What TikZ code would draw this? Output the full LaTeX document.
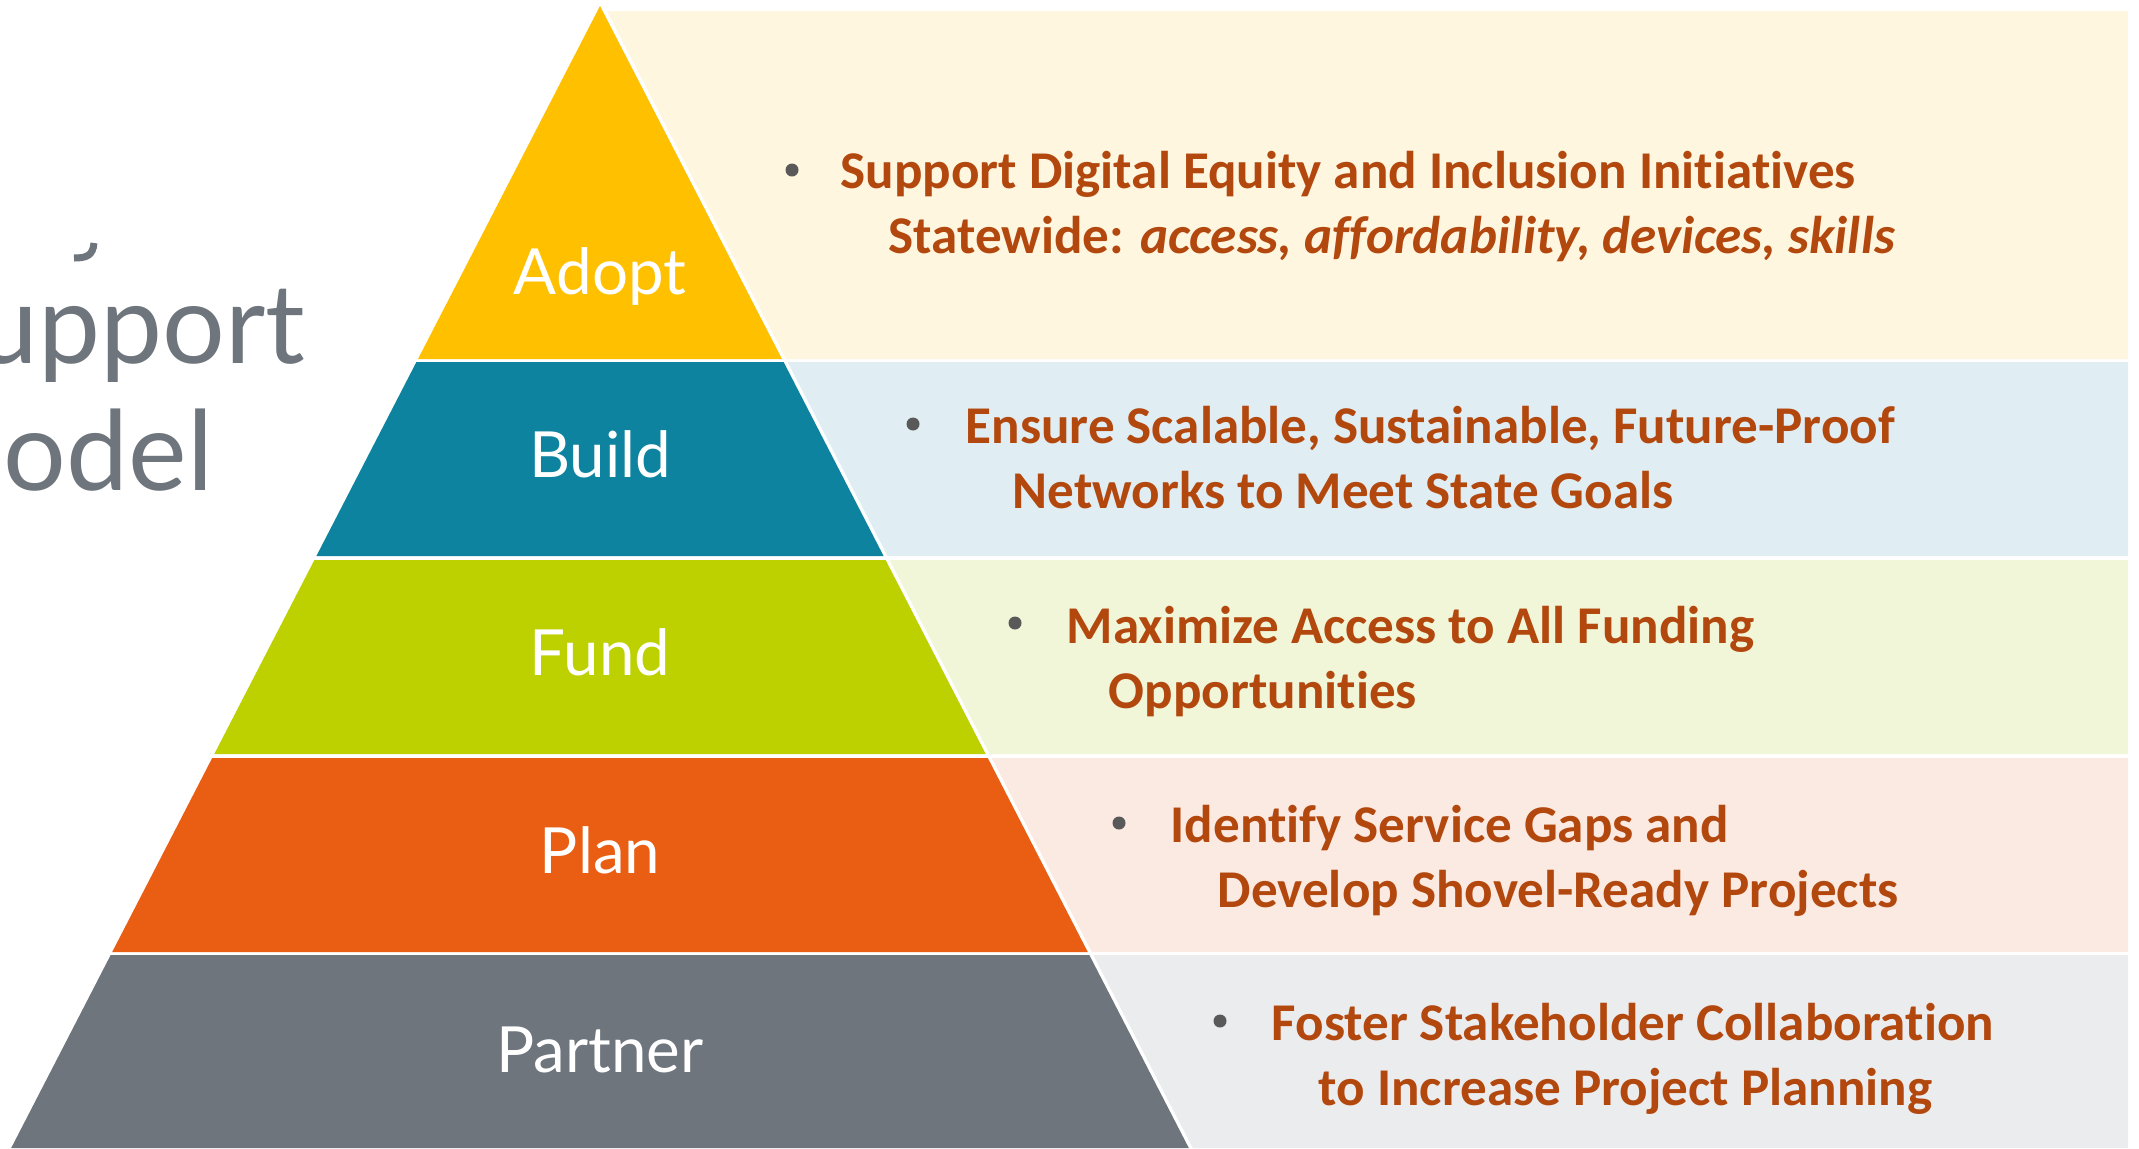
\documentclass[tikz,border=0pt]{standalone}
\usepackage{fontspec}
\newfontfamily\PyLabelFont{Lato}
\newfontfamily\PyGoalFont[Ligatures=NoCommon]{Carlito}
\usepackage{tikz}
\usetikzlibrary{calc,
	positioning
}
\definecolor{TrAdopt}{HTML}{FFC000}
\definecolor{TrBuild}{HTML}{0D83A0}
\definecolor{TrFund}{HTML}{BDD000}
\definecolor{TrPlan}{HTML}{EA5E14}
\definecolor{TrPartner}{HTML}{6E757C}
\definecolor{PnAdopt}{HTML}{FFF6E0}
\definecolor{PnBuild}{HTML}{E0EEF3}
\definecolor{PnFund}{HTML}{F2F6D9}
\definecolor{PnPlan}{HTML}{FBEAE2}
\definecolor{PnPartner}{HTML}{EBECEE}
\definecolor{GoalText}{HTML}{B3480F}
\definecolor{DotGrey}{HTML}{595959}
\tikzset{Pyramid/.style = {
		x=0.01cm, y=-0.01cm,
		tierlabel/.style = {text=white, inner sep=0pt, anchor=base,
			font=\PyLabelFont\fontsize{18.1}{22}\selectfont},
		goal/.style = {text=GoalText, inner sep=0pt, anchor=base west,
			font=\PyGoalFont\bfseries\fontsize{15.1}{18.5}\selectfont},
		dot/.style = {circle, fill=DotGrey, inner sep=0pt, minimum size=0.13cm},
		heading/.style = {text=TrPartner, inner sep=0pt, anchor=base east,
			font=\PyLabelFont\fontsize{31.5}{36}\selectfont},
	}% end of Pyramid style
}
\begin{document}
\begin{tikzpicture}[Pyramid]
  \fill[white] (0,0) rectangle (2139,1148);
  \useasboundingbox (0,0) rectangle (2139,1148);

  % heading, cut off at the left edge
  \begin{scope}
   \clip (0,0) rectangle (2139,1148);
   \node[heading] (HeadOne) at (306,363) {upport};
   \node[heading] (HeadTwo) at (214,490) {odel};
   \draw[TrPartner, line width=0.07cm] (94,243) .. controls (93,256) and (86,258) .. (74,258);
  \end{scope}

  % panels
  \fill[PnAdopt] (607,11) -- (2128,11) -- (2128,359) -- (786,359) -- cycle;
  \fill[PnBuild] (787.6,362) -- (2128,362) -- (2128,556) -- (887.6,556) -- cycle;
  \fill[PnFund] (889.6,560) -- (2128,560) -- (2128,754) -- (989.7,754) -- cycle;
  \fill[PnPlan] (991.8,758) -- (2128,758) -- (2128,952) -- (1091.8,952) -- cycle;
  \fill[PnPartner] (1093.3,955) -- (2128,955) -- (2128,1148) -- (1192.8,1148) -- cycle;

  % tiers
  \fill[TrAdopt] (600,6) -- (782,359) -- (418,359) -- cycle;
  \fill[TrBuild] (416.4,362) -- (783.6,362) -- (883.6,556) -- (316.4,556) -- cycle;
  \fill[TrFund] (314.4,560) -- (885.6,560) -- (985.7,754) -- (214.3,754) -- cycle;
  \fill[TrPlan] (212.2,758) -- (987.8,758) -- (1087.8,952) -- (112.2,952) -- cycle;
  \fill[TrPartner] (110.7,955) -- (1089.3,955) -- (1188.8,1148) -- (11.2,1148) -- cycle;

  \node[tierlabel] (Adopt) at (600,294) {Adopt};
  \node[tierlabel] (Build) at (600,477) {Build};
  \node[tierlabel] (Fund) at (600,675) {Fund};
  \node[tierlabel] (Plan) at (600,873) {Plan};
  \node[tierlabel] (Partner) at (600,1072) {Partner};

  % goals
  \node[dot] (AdoptDot) at (792,170) {};
  \node[goal] (AdoptOne) at (840,188) {Support Digital Equity and Inclusion Initiatives};
  \node[goal] (AdoptTwo) at (888,253) {Statewide: \itshape access, affordability, devices, skills};

  \node[dot] (BuildDot) at (913,424) {};
  \node[goal] (BuildOne) at (965,443) {Ensure Scalable, Sustainable, Future-Proof};
  \node[goal] (BuildTwo) at (1012,508) {Networks to Meet State Goals};

  \node[dot] (FundDot) at (1015,623) {};
  \node[goal] (FundOne) at (1066,643) {Maximize Access to All Funding};
  \node[goal] (FundTwo) at (1108,708) {Opportunities};

  \node[dot] (PlanDot) at (1119,823) {};
  \node[goal] (PlanOne) at (1170,842) {Identify Service Gaps and};
  \node[goal] (PlanTwo) at (1217,907) {Develop Shovel-Ready Projects};

  \node[dot] (PartnerDot) at (1220,1021) {};
  \node[goal] (PartnerOne) at (1271,1040) {Foster Stakeholder Collaboration};
  \node[goal] (PartnerTwo) at (1318,1105) {to Increase Project Planning};
\end{tikzpicture}
\end{document}
